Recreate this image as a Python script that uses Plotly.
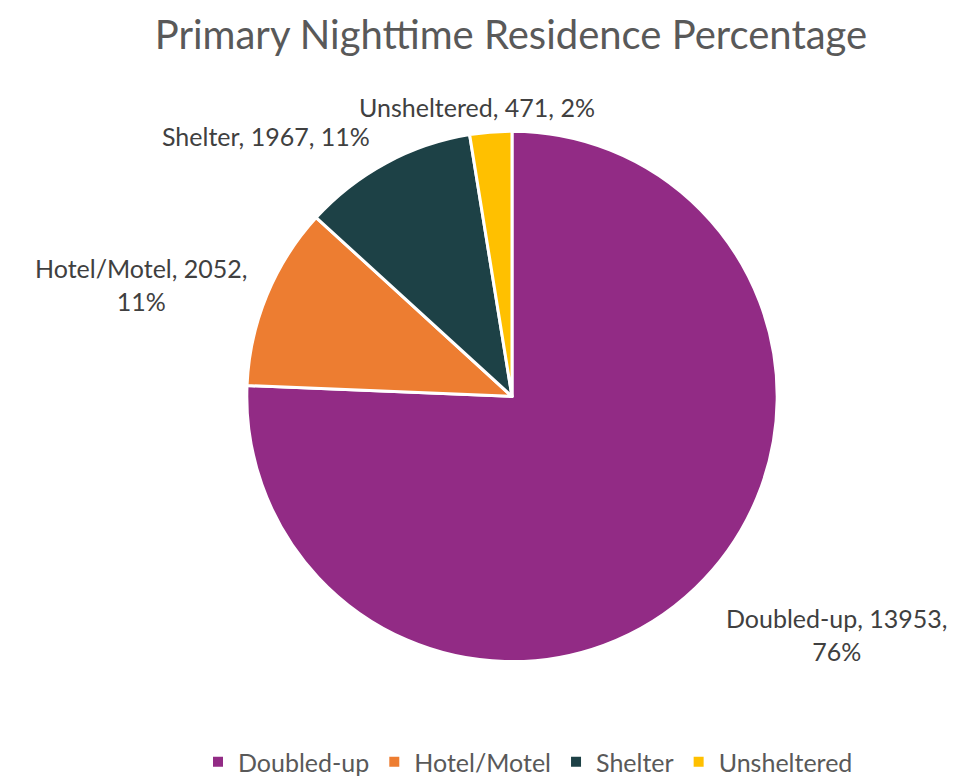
import plotly.graph_objects as go

categories = ["Doubled-up", "Hotel/Motel", "Shelter", "Unsheltered"]
counts = [13953, 2052, 1967, 471]
pct_labels = ["76%", "11%", "11%", "2%"]
colors = ["#922B85", "#ED7D31", "#1D4146", "#FFC000"]

W, H = 972, 777
cx, cy, r = 504, 394, 269  # layout box for the pie (pixels)

fig = go.Figure()
fig.add_trace(go.Pie(
    labels=categories,
    values=counts,
    sort=False,
    direction="clockwise",
    rotation=0,
    marker=dict(colors=colors, line=dict(color="white", width=3)),
    textinfo="none",
    hoverinfo="label+value+percent",
    domain=dict(x=[(cx - r) / W, (cx + r) / W], y=[1 - (cy + r) / H, 1 - (cy - r) / H]),
    showlegend=True,
))

label_font = dict(family="Lato, Carlito, Calibri, sans-serif", size=25, color="#404040")
label_pos = {
    "Doubled-up": (829 / W, 1 - 635 / H, True),
    "Hotel/Motel": (133 / W, 1 - 280 / H, True),
    "Shelter": (258 / W, 1 - 130 / H, False),
    "Unsheltered": (469 / W, 1 - 100 / H, False),
}
for cat, cnt, pct in zip(categories, counts, pct_labels):
    x, y, wrap = label_pos[cat]
    txt = f"{cat}, {cnt},<br>{pct}" if wrap else f"{cat}, {cnt}, {pct}"
    fig.add_annotation(x=x, y=y, xref="paper", yref="paper", text=txt,
                       showarrow=False, font=label_font, align="center",
                       xanchor="center", yanchor="middle")

fig.update_layout(
    width=W, height=H,
    paper_bgcolor="white", plot_bgcolor="white",
    margin=dict(l=0, r=0, t=0, b=0),
    title=dict(text="Primary Nighttime Residence Percentage",
               font=dict(family="Lato, Carlito, Calibri, sans-serif", size=40, color="#595959"),
               x=503 / W, xanchor="center", y=1 - 27 / H, yanchor="middle"),
    legend=dict(orientation="h", x=520 / W, xanchor="center", y=1 - 765 / H, yanchor="middle",
                font=dict(family="Lato, Carlito, Calibri, sans-serif", size=25, color="#595959"),
                itemsizing="constant", traceorder="normal", itemwidth=30),
)

fig.write_html("out.html")
